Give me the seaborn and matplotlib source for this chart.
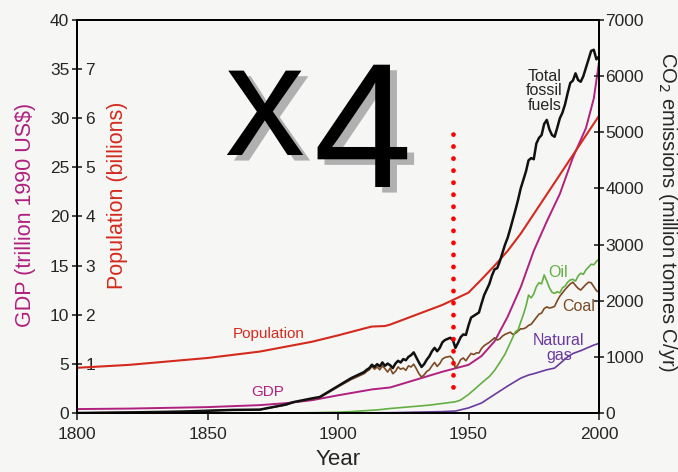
import numpy as np
import pandas as pd
import seaborn as sns
import matplotlib.pyplot as plt
import matplotlib.patheffects as pe

# world GDP (trillion 1990 US$)
gdp_years = [1800, 1820, 1850, 1870, 1880, 1890, 1900, 1913, 1920, 1930, 1940, 1950,
             1955, 1960, 1965, 1970, 1975, 1980, 1985, 1990, 1995, 1998, 2000]
gdp_values = [0.4, 0.45, 0.6, 0.8, 1.0, 1.3, 1.8, 2.4, 2.6, 3.4, 4.2, 4.9,
              5.8, 7.3, 9.8, 12.8, 16.5, 19.5, 22.3, 26.0, 29.0, 32.0, 35.7]

# world population (billions)
pop_years = [1800, 1820, 1850, 1870, 1890, 1900, 1910, 1913, 1918, 1920, 1925, 1930,
             1940, 1950, 1955, 1960, 1965, 1970, 1975, 1980, 1985, 1990, 1995, 2000]
pop_values = [0.92, 0.98, 1.12, 1.25, 1.45, 1.58, 1.72, 1.76, 1.77, 1.8, 1.9, 2.0,
              2.2, 2.45, 2.72, 3.0, 3.3, 3.65, 4.05, 4.45, 4.85, 5.25, 5.65, 6.05]

# CO2 emissions (million tonnes C/yr)
total_years = [1800, 1820, 1840, 1850, 1860, 1870, 1880, 1883, 1890, 1893, 1900, 1905] + list(range(1910, 2001))
total_values = [0, 10, 25, 40, 55, 60, 150, 195, 260, 285, 480, 620,
                730, 770, 800, 860, 820, 870, 830, 900, 840, 880,
                850, 800, 880, 930, 900, 960, 940, 1000, 1030, 1080,
                990, 900, 820, 870, 950, 1010, 1100, 1160, 1100, 1160,
                1260, 1300, 1320, 1340, 1300, 1160, 1250, 1350, 1400, 1390,
                1560, 1700, 1730, 1760, 1790, 1950, 2100, 2200, 2300, 2450,
                2560, 2580, 2700, 2850, 3000, 3120, 3280, 3450, 3620, 3800,
                4000, 4150, 4300, 4500, 4540, 4520, 4800, 4900, 4950, 5150,
                5220, 5050, 4950, 4920, 5080, 5250, 5350, 5500, 5700, 5880,
                5920, 6050, 5930, 5900, 6000, 6150, 6300, 6450, 6470, 6300, 6350]

coal_years = [1800, 1820, 1840, 1850, 1860, 1870, 1880, 1883, 1890, 1893, 1900, 1905] + list(range(1910, 2001))
coal_values = [0, 10, 25, 40, 55, 58, 145, 188, 250, 272, 465, 595,
               700, 740, 770, 830, 780, 820, 770, 840, 790, 730,
               800, 700, 740, 820, 780, 800, 760, 840, 820, 870,
               790, 700, 640, 680, 740, 770, 840, 900, 830, 880,
               960, 990, 1000, 1010, 960, 800, 860, 950, 980, 930,
               1000, 1060, 1040, 1070, 1070, 1150, 1200, 1230, 1260, 1300,
               1340, 1300, 1320, 1370, 1400, 1420, 1440, 1400, 1420, 1460,
               1500, 1500, 1520, 1560, 1580, 1640, 1700, 1760, 1780, 1860,
               1890, 1870, 1880, 1900, 2000, 2080, 2140, 2200, 2250, 2300,
               2330, 2270, 2220, 2190, 2240, 2290, 2330, 2320, 2250, 2180, 2150]

oil_years = [1880, 1890, 1900, 1905, 1910, 1915, 1920, 1925, 1930, 1935, 1940, 1945,
             1947, 1950, 1953, 1955, 1958, 1960, 1962, 1964, 1966, 1968, 1969, 1970,
             1971, 1972, 1973, 1974, 1975, 1976, 1977, 1978, 1979, 1980, 1981, 1982,
             1983, 1984, 1985, 1986, 1987, 1988, 1989, 1990, 1991, 1992, 1993, 1994,
             1995, 1996, 1997, 1998, 1999, 2000]
oil_values = [0, 5, 15, 25, 40, 55, 80, 100, 120, 140, 170, 200,
              231, 330, 450, 534, 650, 760, 900, 1050, 1250, 1450, 1480, 1620,
              1750, 1900, 2100, 2050, 2120, 2250, 2320, 2300, 2460, 2350, 2230, 2150,
              2130, 2160, 2140, 2230, 2260, 2330, 2370, 2380, 2350, 2440, 2490, 2470,
              2550, 2600, 2650, 2640, 2700, 2740]

gas_years = [1900, 1920, 1930, 1940, 1945, 1950, 1955, 1960, 1965, 1970, 1973, 1975,
             1980, 1983, 1985, 1988, 1990, 1993, 1995, 1998, 2000]
gas_values = [0, 5, 15, 25, 35, 90, 178, 330, 480, 620, 676, 700,
              770, 800, 880, 1000, 1060, 1110, 1150, 1210, 1240]

sources = ["Coal", "Oil", "Natural gas", "Total fossil fuels"]
colors = {"Coal": "#7b4a24", "Oil": "#62b043", "Natural gas": "#6a3a9e",
          "Total fossil fuels": "#111111", "GDP": "#b0207f", "Population": "#d42a1e"}

x_ticks = [1800, 1850, 1900, 1950, 2000]
gdp_ticks = [0, 5, 10, 15, 20, 25, 30, 35, 40]
pop_ticks = [1, 2, 3, 4, 5, 6, 7]
co2_ticks = [0, 1000, 2000, 3000, 4000, 5000, 6000, 7000]
marker_year = 1944

co2 = pd.concat([
    pd.DataFrame({"year": coal_years, "co2": coal_values, "source": "Coal"}),
    pd.DataFrame({"year": oil_years, "co2": oil_values, "source": "Oil"}),
    pd.DataFrame({"year": gas_years, "co2": gas_values, "source": "Natural gas"}),
    pd.DataFrame({"year": total_years, "co2": total_values, "source": "Total fossil fuels"}),
])
gdp = pd.DataFrame({"year": gdp_years, "gdp": gdp_values})
pop = pd.DataFrame({"year": pop_years, "pop": pop_values})

sns.set_style("ticks")
plt.rcParams["font.family"] = ["Liberation Sans", "DejaVu Sans"]
bg = "#f6f6f4"

fig = plt.figure(figsize=(6.78, 4.72), dpi=100, facecolor=bg)
fig.subplots_adjust(left=77 / 678, right=599 / 678, bottom=1 - 413 / 472, top=1 - 20 / 472)
ax = fig.add_subplot(111)
ax.set_facecolor(bg)
ax_pop = ax.twinx()
ax_co2 = ax.twinx()

# GDP and population
sns.lineplot(data=gdp, x="year", y="gdp", ax=ax, color=colors["GDP"], lw=1.4)
sns.lineplot(data=pop, x="year", y="pop", ax=ax_pop, color=colors["Population"], lw=1.5)

# CO2 by fuel
sns.lineplot(data=co2, x="year", y="co2", hue="source", hue_order=sources,
             palette=colors, ax=ax_co2, legend=False, lw=1.2)
ax_co2.lines[-1].set_linewidth(1.8)

ax.set_xlim(1800, 2000)
ax.set_ylim(0, 40)
ax_pop.set_ylim(0, 8)
ax_co2.set_ylim(0, 7000)

ax.set_xticks(x_ticks)
ax.set_yticks(gdp_ticks)
ax_pop.set_yticks(pop_ticks)
ax_co2.set_yticks(co2_ticks)

for a in (ax, ax_pop, ax_co2):
    for s in a.spines.values():
        s.set_color("black")
        s.set_linewidth(1.4)
for s in ax_pop.spines.values():
    s.set_visible(False)

ax.tick_params(axis="y", direction="inout", length=7, width=1.2, pad=2, labelsize=12.5)
ax.tick_params(axis="x", direction="out", length=5, width=1.2, pad=5, labelsize=12.5)

# population labels sit just inside the left spine
ax_pop.yaxis.set_ticks_position("left")
ax_pop.tick_params(axis="y", length=0, pad=-6, labelsize=12.5, labelleft=True, labelright=False)
for t in ax_pop.yaxis.get_major_ticks():
    t.label1.set_horizontalalignment("left")

ax_co2.tick_params(axis="y", direction="inout", length=7, width=1.2, pad=1, labelsize=12.5)

ax.set_xlabel("Year", fontsize=16, labelpad=5)
ax.set_ylabel("")
ax_pop.set_ylabel("")
ax_co2.set_ylabel("")

fig.text(26 / 678, 1 - 215 / 472, "GDP (trillion 1990 US$)", rotation=90, color=colors["GDP"],
         fontsize=15.5, ha="center", va="center")
fig.text(117 / 678, 1 - 195 / 472, "Population (billions)", rotation=90, color=colors["Population"],
         fontsize=15.5, ha="center", va="center")
fig.text(668 / 678, 1 - 212 / 472, "CO$_2$ emissions (million tonnes C/yr)", rotation=-90,
         fontsize=14.5, ha="center", va="center")

# series labels
ax.text(1979, 32.8, "Total\nfossil\nfuels", fontsize=11.5, ha="center", va="center", linespacing=0.95)
ax.text(1984.3, 14.3, "Oil", fontsize=11.5, color=colors["Oil"], ha="center", va="center")
ax.text(1992.3, 10.8, "Coal", fontsize=11.5, color=colors["Coal"], ha="center", va="center")
ax.text(1984.6, 6.6, "Natural\ngas", fontsize=11.5, color=colors["Natural gas"], ha="center", va="center",
        linespacing=0.95)
ax.text(1873.3, 8.0, "Population", fontsize=11, color=colors["Population"], ha="center", va="center")
ax.text(1873, 2.1, "GDP", fontsize=11, color=colors["GDP"], ha="center", va="center")

# red dotted marker line
ax_co2.axvline(marker_year, ymin=0.066, ymax=0.71, color="red", lw=3.4,
               ls=(0, (0.05, 2.5)), dash_capstyle="round", zorder=5)

# big "x4" with shadow
shadow = [pe.SimplePatchShadow(offset=(5, -4), shadow_rgbFace="#b0b0b0", alpha=1.0), pe.Normal()]
fig.text(265 / 678, 1 - 155 / 472, "x", fontsize=115, ha="center", va="baseline",
         color="black", path_effects=shadow)
fig.text(363 / 678, 1 - 187 / 472, "4", fontsize=128, ha="center", va="baseline",
         color="black", path_effects=shadow)

fig.savefig("out.png", dpi=100, facecolor=bg)
